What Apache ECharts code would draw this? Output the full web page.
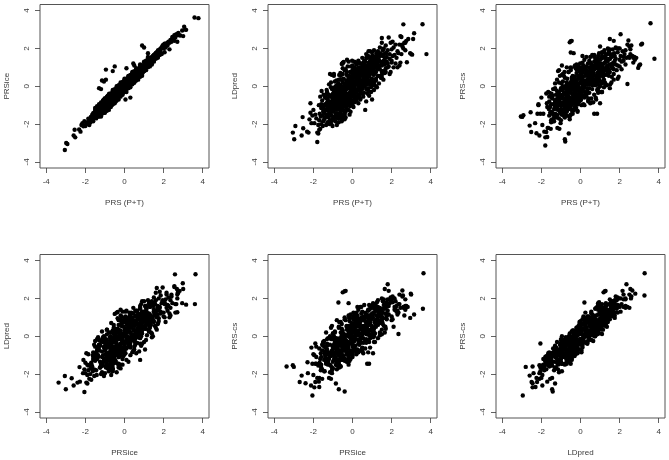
<!DOCTYPE html>
<html><head><meta charset="utf-8">
<script src="https://cdn.jsdelivr.net/npm/echarts@6/dist/echarts.min.js"></script>
<style>html,body{margin:0;padding:0;background:#fff}#c{width:669px;height:460px}</style>
</head><body><div id="c"></div>
<script>
const prsPT = [
-3.05,-2.98,-2.92,-2.6,-2.55,-2.52,-2.32,-2.25,-2.15,-1.8,
-2.2,-2.15,-2.1,-2.05,-2.0,-1.95,-1.9,-1.85,-1.8,-1.75,
-1.75,-1.72,-1.7,-1.7,-1.68,-1.65,-1.65,-1.62,-1.6,-1.6,
-1.58,-1.55,-1.55,-1.52,-1.5,-1.5,-1.48,-1.45,-1.45,-1.42,
-1.4,-1.4,-1.38,-1.35,-1.35,-1.32,-1.3,-1.3,-1.28,-1.25,
-1.25,-1.22,-1.2,-1.2,-1.18,-1.15,-1.15,-1.12,-1.1,-1.1,
-1.08,-1.05,-1.05,-1.02,-1.0,-1.0,-1.0,-0.98,-0.95,-0.95,
-0.95,-0.92,-0.9,-0.9,-0.88,-0.85,-0.85,-0.82,-0.82,-0.8,
-0.8,-0.78,-0.78,-0.75,-0.75,-0.72,-0.72,-0.7,-0.7,-0.68,
-0.68,-0.65,-0.65,-0.62,-0.62,-0.6,-0.6,-0.6,-0.58,-0.58,
-0.55,-0.55,-0.55,-0.52,-0.5,-0.5,-0.5,-0.48,-0.48,-0.45,
-0.5,-0.5,-0.45,-0.45,-0.42,-0.4,-0.4,-0.38,-0.38,-0.35,
-0.35,-0.35,-0.32,-0.3,-0.3,-0.3,-0.28,-0.28,-0.25,-0.25,
-0.22,-0.22,-0.2,-0.2,-0.2,-0.18,-0.15,-0.15,-0.12,-0.12,
-0.1,-0.1,-0.08,-0.05,-0.05,-0.05,-0.02,0,0,0,
0.02,0.05,0.05,0.08,0.1,0.1,0.1,0.12,0.15,0.15,
0.18,0.2,0.2,0.22,0.25,0.25,0.28,0.3,0.3,0.3,
0.32,0.35,0.35,0.38,0.4,0.4,0.42,0.45,0.45,0.45,
0.48,0.5,0.5,0.52,0.55,0.55,0.58,0.6,0.6,0.62,
0.65,0.65,0.68,0.7,0.7,0.72,0.75,0.75,0.78,0.8,
0.8,0.82,0.85,0.85,0.88,0.9,0.9,0.9,0.92,0.95,
0.95,1.0,1.0,1.0,1.02,1.05,1.05,1.08,1.1,1.1,
1.12,1.15,1.2,1.2,1.2,1.22,1.25,1.25,1.3,1.3,
1.35,1.35,1.4,1.4,1.45,1.45,1.5,1.5,1.5,1.52,
1.55,1.58,1.6,1.62,1.65,1.7,1.7,1.72,1.75,1.8,
1.85,1.85,1.9,1.95,1.95,2.0,2.0,2.05,2.05,2.1,
2.1,2.15,2.2,2.2,2.25,2.3,2.3,2.35,2.4,2.4,
2.45,2.45,2.5,2.5,2.55,2.55,2.6,2.6,2.65,2.7,
2.7,2.75,2.78,2.85,2.95,3.0,3.05,3.1,3.15,3.58,3.78,
-1.1,-0.95,-0.85,-0.75,-0.7,-0.6,-0.55,-0.45,-0.4,-0.35,
-0.95,-0.88,-0.72,-0.65,-0.58,-0.52,-0.42,-0.32,-0.28,-0.18,
-0.15,-0.12,-0.08,-0.05,0.02,0.05,0.08,0.12,0.18,0.22,
0.25,0.28,0.32,0.35,0.38,0.42,0.48,0.52,0.58,0.62,
0.65,0.7,0.75,0.8,0.85,0.9,1.0,1.05,1.1,1.15,
-1.3,-1.2,-1.1,-1.0,-0.9,-0.85,-0.8,-0.7,-0.65,-0.6,
-0.55,-0.45,-0.4,-0.35,-0.28,-0.25,-0.18,-0.12,-0.05,0.05,
0.15,0.25,0.35,0.45,0.55,0.65,0.75,0.85,0.95,1.05,
1.25,1.35,1.45,1.55,1.65,1.75,1.2,1.4,1.6,1.8,
-1.5,-1.4,-1.3,-1.25,-1.2,-1.15,-1.1,-1.05,-1.0,-0.95,
-0.9,-0.85,-0.8,-0.75,-0.7,-0.65,-0.6,-0.55,-0.5,-0.45,
-0.85,-0.75,-0.65,-0.55,-0.45,-0.35,-0.25,-0.15,-0.05,0.05,
-0.4,-0.3,-0.2,-0.1,0.0,0.1,0.2,0.3,0.4,0.5,
-1.0,-0.9,-0.7,-0.5,-0.3,-0.1,0.1,0.3,0.5,0.7,
0.8,0.9,1.0,1.1,1.2,1.3,1.4,1.5,1.6,1.7,
-0.6,-0.4,-0.2,0.0,0.2,0.4,0.6,0.8,1.0,1.2,
-1.45,-1.2,-0.95,-0.7,-0.45,-0.2,0.05,0.3,0.55,0.8,
-1.6,-1.35,-1.1,-0.85,-0.6,-0.35,-0.1,0.15,0.4,0.65,
-1.05,-0.8,-0.55,-0.3,-0.05,0.2,0.45,0.7,0.95,1.2,
0.0,0.1,0.2,0.3,0.4,0.5,0.6,0.7,0.8,0.9,
-1.3,-1.0,-0.7,-0.4,-0.1,0.2,0.5,0.8,1.1,1.4,
1.3,1.4,1.5,1.6,1.7,1.8,1.9,2.0,1.1,1.0,
-1.3,-1.1,-0.9,-0.7,-0.5,-0.3,-0.1,0.1,0.3,0.5,
0.7,0.9,1.1,1.3,1.5,1.7,1.9,0.4,0.6,0.8,
-0.9,-0.7,-0.5,-0.3,-0.1,0.1,0.3,-1.2,-1.0,-0.8,
-0.6,-0.4,-0.2,0,0.2,0.4,0.6,0.8,1.0,1.2,
-1.0,-0.8,-0.6,-0.4,-0.2,0,0.2,0.4,0.6,0.8,
0.5,0.7,0.9,1.1,1.3,1.5,1.7,-1.5,-1.3,-1.1
];
const prsIce = [
-3.37,-3.0,-3.05,-2.6,-2.3,-2.7,-2.28,-2.4,-1.95,-2.05,
-2.05,-2.0,-2.12,-1.85,-2.1,-2.0,-1.9,-1.72,-1.95,-1.9,
-1.9,-1.62,-1.7,-1.85,-1.7,-1.5,-1.8,-1.65,-1.42,-1.75,
-1.5,-1.68,-1.4,-1.55,-1.4,-1.62,-1.3,-1.55,-1.35,-1.5,
-1.25,-1.45,-1.4,-1.2,-1.42,-1.3,-0.1,-1.35,-1.15,-1.3,
-1.05,-1.25,-0.15,-1.1,-1.2,0.3,-1.0,-1.2,-1.0,-1.15,
-1.1,0.25,-0.95,-1.05,-0.85,-1.05,-0.9,-1.0,0.88,0.35,
-0.85,-0.95,-0.75,-0.9,-0.8,-0.7,-0.9,-0.6,-0.85,-0.68,
-0.7,-0.4,-0.82,-0.6,-0.75,-0.55,-0.8,-0.65,-0.5,-0.72,
-0.55,-0.5,-0.72,-0.45,-0.68,0.8,-0.85,-0.55,-0.4,-0.62,
-0.5,-0.45,-0.6,-0.4,-0.4,-0.5,-0.35,-0.52,-0.3,-0.35,
-0.72,1.05,-0.4,-0.5,-0.3,-0.42,-0.3,-0.25,-0.45,-0.2,
-0.3,-0.4,-0.2,-0.15,-0.3,-0.35,-0.2,-0.1,-0.25,-0.15,
-0.15,-0.2,-0.05,-0.2,-0.1,-0.05,-0.1,-0.2,0.05,-0.1,
0.0,-0.08,0.05,0.05,-0.1,0.0,0.1,0.05,-0.05,0.1,
0.0,-0.7,0.1,0.15,0.95,0.2,0.05,0.2,0.1,0.25,
0.25,0.15,0.3,0.25,0.3,0.35,0.35,0.3,-0.6,0.4,
0.4,0.4,0.3,0.45,0.4,0.5,0.55,1.2,0.5,0.55,
0.6,1.1,0.55,0.6,0.65,0.5,0.7,0.7,0.6,0.72,
0.7,0.8,0.75,0.75,0.85,0.8,0.85,0.8,0.9,0.85,
0.8,0.9,1.0,0.85,0.95,2.15,0.9,1.0,0.95,1.0,
1.05,2.05,1.1,1.05,1.15,1.15,1.1,1.2,1.2,1.1,
1.25,1.3,1.75,1.55,1.25,1.3,1.35,1.4,1.4,1.3,
1.5,1.4,1.5,1.45,1.55,1.6,1.65,1.55,1.6,1.5,
1.7,1.65,1.75,1.7,1.8,1.85,1.75,1.9,1.85,1.95,
1.95,2.0,2.05,2.15,2.1,2.1,2.2,1.8,2.25,2.05,
2.25,2.2,2.3,2.15,2.35,1.95,2.3,2.45,2.35,2.4,
2.55,2.6,2.55,2.6,2.4,2.7,2.58,2.7,2.75,2.35,
2.72,2.82,2.7,2.68,2.95,2.65,3.15,3.0,2.98,3.63,3.6,
-1.05,-1.0,-0.78,-0.8,-0.6,-0.65,-0.48,-0.5,-0.35,-0.42,
-0.98,-0.75,-0.65,-0.6,-0.52,-0.6,-0.48,-0.28,-0.32,-0.22,
-0.1,-0.2,0.0,-0.15,0.08,0.12,0.02,0.18,0.12,0.3,
0.3,0.22,0.38,0.32,0.42,0.38,0.52,0.48,0.62,0.58,
0.72,0.78,0.7,0.88,0.82,0.98,1.02,1.12,1.08,1.2,
-1.32,-1.12,-1.05,-0.95,-0.88,-0.9,-0.75,-0.72,-0.55,-0.58,
-0.62,-0.38,-0.45,-0.28,-0.22,-0.32,-0.15,-0.05,0.02,0.0,
0.18,0.2,0.45,0.4,0.58,0.62,0.8,0.9,0.92,1.0,
1.3,1.42,1.5,1.6,1.72,1.8,1.22,1.48,1.68,1.85,
-1.15,-1.05,-0.95,-1.55,-0.85,-1.45,-0.75,-1.4,-0.65,-1.3,
-0.6,-1.2,-0.45,-1.1,-0.4,-1.0,-0.3,-0.9,-0.2,-0.8,
-1.05,-0.95,-0.9,-0.8,-0.7,-0.6,-0.5,-0.4,-0.3,-0.2,
-0.1,0.0,0.1,0.2,0.3,0.4,0.5,0.6,0.7,0.8,
-1.25,-1.15,-0.95,-0.2,-0.05,-0.35,-0.15,0.05,0.2,0.45,
0.6,0.72,1.25,1.3,1.0,1.12,1.25,1.35,1.45,1.55,
-0.4,-0.6,0.0,-0.2,0.0,0.2,0.85,1.05,0.8,1.45,
-1.7,-1.45,-1.2,-0.9,-0.65,-0.4,-0.15,0.55,0.35,0.6,
-1.85,-1.6,-1.35,-0.5,-0.25,0.0,0.2,-0.1,0.15,0.9,
-0.7,-1.1,-0.75,-0.55,0.25,0.45,0.7,0.5,0.75,1.05,
0.3,-0.15,0.45,0.05,0.65,0.25,0.85,0.45,1.05,0.65,
-1.6,-0.7,-1.0,-0.15,-0.4,-0.05,0.75,0.55,1.35,1.15,
1.15,1.55,1.35,1.75,1.55,1.65,1.75,2.0,1.25,0.8,
-1.0,-0.8,-0.55,-0.4,-0.15,0.05,0.2,0.35,0.55,0.2,
0.35,0.55,0.85,1.05,1.3,1.5,1.7,0.1,0.3,0.5,
-1.3,-1.1,-0.9,-0.7,-0.45,-0.3,-0.05,-1.6,-1.4,-1.25,
-0.2,0.0,0.2,0.4,0.55,0.75,0.9,1.1,1.3,1.5,
-0.65,-0.45,-0.95,-0.75,-0.55,-0.3,-0.1,0.65,0.95,1.15,
0.55,0.72,0.88,1.12,1.28,1.52,1.68,-1.25,-1.55,-0.8
];
const ldPred = [
-2.45,-2.8,-2.1,-2.6,-1.63,-2.22,-2.4,-2.45,-0.9,-2.95,
-1.75,-1.4,-1.95,-1.55,-1.25,-1.95,-1.5,-1.7,-2.45,-2.05,
-2.5,-1.0,-2.3,-1.8,-1.45,-0.55,-2.25,-1.6,-1.15,-2.0,
-0.25,-1.55,-0.75,-2.1,-1.2,-1.85,-0.45,-1.75,-1.0,-1.3,
-1.65,-0.95,-0.6,-1.5,-2.05,-0.2,-0.3,-1.1,-1.9,-0.75,
-1.3,-1.65,0.1,-1.0,-2.0,0.65,-0.55,-1.4,-1.95,-0.8,
-1.55,0.6,-1.15,-2.1,-0.4,-1.35,-0.9,-0.1,0.65,0.55,
-1.7,-0.65,-1.2,-0.2,-1.85,-0.75,-1.45,0.3,-1.0,-2.05,
-1.45,-1.42,-0.5,-1.2,-1.7,0.15,-0.85,-1.5,-0.3,-1.05,
0.6,-1.0,-0.35,-1.3,0.7,0.55,-1.3,-0.7,-0.05,-1.6,
1.18,-0.95,-1.85,-0.45,1.25,-1.2,0.95,-0.15,-1.1,1.28,
0.2,1.2,-0.7,0.4,-1.45,-0.3,0.85,-0.9,0.15,0.9,
-1.65,-0.55,0.3,-0.85,0.6,-0.15,1.4,-1.2,-0.5,1.05,
-0.1,-1.0,0.5,-0.75,1.3,0.0,-0.35,-1.5,0.75,-0.6,
0.3,-0.25,1.05,-0.9,0.15,-0.5,1.35,0.4,-0.3,0.85,
-0.75,-1.1,0.6,0.0,1.3,-0.4,1.0,0.45,-0.15,1.25,
0.7,-0.35,1.15,0.25,-0.6,0.85,0.5,-0.1,-0.2,1.0,
0.55,0.1,-0.5,1.2,0.8,-0.7,0.3,1.0,0.65,-0.35,
0.15,1.5,-0.15,0.85,0.4,-0.55,0.95,0.05,1.35,0.6,
1.05,-1.25,0.25,-0.8,1.7,0.7,0.35,1.1,-0.4,0.9,
-0.1,1.85,0.5,-0.5,1.2,1.5,0.15,1.85,0.75,-0.3,
1.3,1.8,0.4,-0.7,1.0,0.05,1.6,0.6,1.9,-0.2,
1.2,0.8,1.55,1.35,0.3,1.75,1.0,-0.05,1.85,0.55,
1.4,0.15,2.05,0.9,1.7,0.45,2.55,1.25,2.3,0.8,
1.6,0.35,2.0,1.15,1.5,2.15,0.95,1.75,1.3,1.9,
2.58,1.05,1.7,2.3,0.75,1.95,1.35,2.35,1.6,1.0,
2.05,1.65,1.2,2.2,1.5,1.85,1.0,1.75,1.1,2.2,
2.65,1.25,2.6,1.7,2.1,2.2,3.27,2.0,2.3,1.9,
2.3,2.4,1.27,2.5,1.75,1.7,1.67,2.5,2.8,3.28,1.7,
-1.2,-0.35,-0.6,-1.0,-0.15,-0.9,-0.6,-1.3,-0.05,-0.8,
-0.95,-1.25,-0.35,-1.7,-1.05,-0.75,0.05,-1.1,-0.7,-0.9,
-0.7,0.1,-0.45,0.55,-0.3,0.25,-0.6,0.65,0.2,-0.25,
0.2,0.75,-0.15,0.45,0.05,0.95,0.55,0.3,0.75,0.0,
0.45,0.9,0.1,1.25,0.55,1.1,0.9,1.4,0.75,1.05,
-0.65,-1.45,-0.55,-1.6,-1.1,-0.35,-0.95,-1.2,-0.7,-1.45,
-0.25,-0.6,-1.0,-0.1,-0.4,-0.95,0.55,-1.05,0.0,0.95,
0.9,0.45,0.7,-0.1,1.1,0.7,1.5,0.3,1.05,1.25,
1.55,1.05,1.3,1.9,0.7,1.55,0.75,1.6,1.35,1.2,
-1.1,-0.6,-1.6,-1.05,-0.45,-1.8,-1.3,-0.15,-1.75,-0.45,
-0.85,-1.6,0.05,-0.3,-1.9,-0.75,-1.55,0.35,-0.8,-1.55,
0.0,-0.55,0.35,-1.15,-0.2,-1.35,0.25,-0.7,0.35,-0.55,
-1.5,-0.6,-1.25,0.75,-1.0,-0.85,0.1,-0.9,1.2,-0.4,
-0.5,0.25,-1.65,-1.7,0.75,0.4,-0.2,0.4,0.9,1.5,
0.2,0.65,0.25,1.55,1.15,0.9,1.75,0.6,1.7,1.2,
-0.45,-1.75,-0.95,1.1,-0.55,0.95,0.2,0.55,1.45,0.0,
-1.4,-0.9,-0.25,0.1,-0.4,0.25,0.7,1.35,1.25,0.75,
-0.95,-1.25,-0.05,-0.55,0.05,-0.35,-1.35,-0.75,-0.2,1.3,
-1.8,-0.15,-0.05,-1.0,-0.15,0.35,-0.05,0.55,-0.05,0.4,
-0.05,0.7,-0.75,1.3,-0.35,1.05,0.0,0.85,1.6,1.35,
-0.85,-0.7,-0.65,-0.7,-0.85,0.85,0.1,1.05,0.2,1.1,
1.25,0.55,0.75,0.8,1.75,1.0,1.45,1.25,0.95,1.6,
-0.35,0.2,-0.05,0.35,0.65,0.15,0.35,0.1,-0.45,0.25,
-0.15,0.1,0.1,0.55,0.45,0.75,0.65,-0.65,-0.35,-0.25,
-0.2,-0.05,-0.25,0.0,0.05,-0.15,0.0,-1.15,-0.75,-0.45,
-0.65,-0.35,-0.55,-0.2,0.6,0.25,0.5,1.0,1.15,1.3,
-0.55,-0.9,-0.2,-0.95,0.45,0.2,-0.2,0.65,1.15,0.85,
0.0,0.3,0.85,0.65,1.65,1.1,1.5,-1.35,-0.45,-1.0
];
const prsCs = [
-1.6,-1.62,-1.53,-2.08,-1.37,-2.42,-1.95,-2.48,-1.0,-3.13,
-1.45,-0.95,-2.6,-1.45,-0.6,-2.05,-1.45,-2.4,-2.7,-0.38,
-2.42,-0.9,-2.68,-1.1,-2.2,-0.3,-2.2,-1.2,-0.8,-1.55,
-0.35,-1.4,-1.1,-2.25,-0.95,-1.8,-0.4,-1.75,-1.4,-0.5,
-1.5,-1.85,-0.95,-1.2,-1.85,-0.15,-0.1,-1.45,-1.5,-0.7,
-1.65,-1.2,0.35,-0.9,-2.2,0.8,-0.6,-1.0,-1.7,-0.45,
-2.25,0.55,-1.25,-1.95,-0.2,-1.8,-0.65,0.15,1.1,0.6,
-1.5,-0.45,-1.4,0.25,-1.55,-0.9,-1.05,0.75,-1.2,-1.65,
-2.8,-2.92,-0.1,-0.75,-1.3,0.05,-0.7,-1.55,-0.6,-1.25,
0.4,-0.55,-0.2,-1.1,0.75,0.75,-2.5,-0.35,0.1,-1.6,
2.32,-0.6,-1.6,-0.35,2.38,-1.0,0.85,-0.2,-0.95,2.4,
1.78,1.0,-0.75,0.3,-1.35,-0.1,0.55,-0.5,-0.15,1.75,
-1.25,-0.35,0.25,-0.9,0.5,0.05,1.1,-1.2,-0.6,0.95,
0.15,-1.15,0.7,-0.45,1.15,-0.2,0.0,-1.35,0.55,-0.85,
0.45,-0.05,0.9,-0.7,0.4,-0.55,1.2,0.2,-0.4,0.7,
-0.3,-1.0,0.4,0.25,1.6,-0.15,1.25,0.75,-0.25,1.1,
0.95,-0.5,1.4,0.2,-0.4,0.55,0.65,0.3,-0.5,1.55,
0.75,-0.1,-0.2,1.2,0.45,-0.8,0.4,1.35,1.0,-0.1,
0.35,1.25,-0.9,0.5,0.8,-0.65,1.15,-0.15,1.65,0.3,
0.7,-0.85,0.6,-1.45,1.65,0.95,0.05,1.35,-0.6,1.4,
0.2,1.45,0.5,-1.45,1.1,1.4,-0.1,1.6,0.9,0.25,
1.75,2.1,0.0,-0.9,0.7,-0.3,1.45,0.6,1.6,-0.3,
1.1,1.5,1.8,0.95,0.9,1.9,1.25,0.2,1.5,0.6,
1.05,0.05,2.0,0.7,1.85,0.55,2.5,1.45,1.95,0.1,
1.7,0.2,1.55,1.2,1.95,2.4,0.9,1.75,1.6,2.05,
2.0,0.85,1.8,2.0,0.5,2.0,1.4,2.75,1.6,0.9,
1.3,1.85,1.35,1.55,1.7,1.9,1.15,1.5,0.12,2.2,
2.42,1.55,2.1,1.5,1.7,1.95,2.15,1.6,1.6,1.25,
1.5,1.55,1.4,1.5,0.97,1.1,1.15,2.2,2.25,3.33,1.45,
-0.75,-0.55,-0.35,-1.35,0.2,-0.95,-0.05,-0.75,-0.4,-0.55,
-1.0,-0.9,-0.45,-1.1,-1.2,-1.15,0.15,-0.7,-0.25,-0.6,
-0.75,0.1,-0.1,0.8,-0.7,0.55,-0.45,0.5,0.0,0.05,
0.6,0.85,0.15,0.1,-0.35,0.8,0.1,0.95,0.35,0.5,
1.0,0.35,0.35,1.0,-0.2,0.55,1.15,0.75,0.25,0.5,
-0.85,-1.55,-0.95,-1.25,-0.85,-0.65,-1.45,-0.3,-1.0,-0.9,
-0.75,0.0,-0.65,0.35,0.0,-0.75,0.35,-0.95,-0.15,0.6,
0.3,0.95,0.35,0.55,1.05,0.2,1.1,0.7,0.35,1.2,
1.55,1.3,0.9,1.65,0.95,1.35,0.65,1.35,0.5,1.15,
-1.9,-0.15,-1.05,-0.45,-1.15,-1.25,-0.55,-0.85,-1.05,-1.25,
-0.2,-0.85,-0.75,-1.05,-1.2,-0.15,-0.95,-0.3,-1.5,-0.9,
0.55,0.0,-0.35,-1.75,0.45,-0.8,-0.35,-1.3,-0.4,0.15,
-0.9,-1.1,-0.6,0.15,-0.2,-0.25,-0.6,-0.3,0.6,0.3,
-0.9,0.0,-0.9,-1.05,0.0,-0.2,0.45,1.05,0.15,0.9,
0.95,-0.25,0.75,1.05,0.35,1.7,1.1,1.15,1.05,0.65,
-1.2,-1.25,0.0,0.55,-1.0,0.15,0.85,1.2,1.0,0.8,
-0.65,-0.25,-0.95,-0.5,-0.95,0.9,1.0,0.85,0.55,0.4,
-0.55,-1.65,0.2,-1.25,-0.85,-0.9,-0.85,-0.95,0.2,0.85,
-1.35,0.45,-0.7,-0.15,-0.7,1.0,-0.35,1.3,0.5,-0.05,
0.75,0.0,-0.05,0.65,-0.65,1.55,0.6,1.55,1.15,1.25,
-1.1,-1.45,-1.35,-1.3,-0.25,0.15,0.65,0.55,0.75,1.7,
0.85,0.95,1.45,1.1,1.25,1.45,1.1,1.05,1.8,1.4,
0.15,0.85,0.65,1.0,0.95,1.05,1.05,0.9,0.25,1.25,
-0.45,-0.35,-0.3,0.1,-0.1,0.35,0.4,-0.75,-0.85,-0.7,
-0.5,-0.15,0.2,0.5,-0.45,-0.55,0.6,-1.5,-0.6,-0.1,
-0.3,0.3,-0.95,-0.75,0.2,0.75,0.05,0.4,0.9,1.2,
-0.1,-0.35,-0.55,-1.45,0.2,-0.3,0.1,0.2,0.95,0.15,
0.25,0.1,0.1,0.15,1.35,0.75,1.7,-1.35,-0.75,-0.35
];
const tickValues = [-4, -2, 0, 2, 4];
const panels = [
  [prsPT, prsIce, 'PRS (P+T)', 'PRSice'],
  [prsPT, ldPred, 'PRS (P+T)', 'LDpred'],
  [prsPT, prsCs, 'PRS (P+T)', 'PRS-cs'],
  [prsIce, ldPred, 'PRSice', 'LDpred'],
  [prsIce, prsCs, 'PRSice', 'PRS-cs'],
  [ldPred, prsCs, 'LDpred', 'PRS-cs']
];
const lefts = [40, 268, 496];
const tops = [4.5, 254.5];
const W = 169, H = 163.5;
const ink = '#3a3a3a';
const mkAxis = (i, name, isY) => ({
  type: 'value', gridIndex: i, min: -4.32, max: 4.32, name,
  nameLocation: 'middle', nameGap: isY ? 29 : 31,
  nameTextStyle: { fontFamily: 'Liberation Sans', fontSize: 8, color: ink },
  splitLine: { show: false },
  axisLine: { show: false, onZero: false },
  axisTick: { show: true, length: 5, customValues: tickValues, lineStyle: { color: ink, width: 0.8 } },
  axisLabel: { show: true, customValues: tickValues, rotate: isY ? 90 : 0, margin: isY ? 9 : 10,
    fontFamily: 'Liberation Sans', fontSize: 8, color: ink, hideOverlap: false, showMinLabel: true, showMaxLabel: true }
});
const option = {
  animation: false, backgroundColor: '#fff',
  grid: panels.map((p, i) => ({ left: lefts[i % 3], top: tops[i < 3 ? 0 : 1], width: W, height: H,
    show: true, borderColor: '#555', borderWidth: 1, backgroundColor: 'transparent' })),
  xAxis: panels.map((p, i) => mkAxis(i, p[2], false)),
  yAxis: panels.map((p, i) => mkAxis(i, p[3], true)),
  series: panels.map((p, i) => ({ type: 'scatter', xAxisIndex: i, yAxisIndex: i, symbol: 'circle', symbolSize: 4.4,
    silent: true, itemStyle: { color: '#000', opacity: 1 }, data: p[0].map((v, k) => [v, p[1][k]]) }))
};
echarts.init(document.getElementById('c'), null, { renderer: 'canvas' }).setOption(option);
</script></body></html>
